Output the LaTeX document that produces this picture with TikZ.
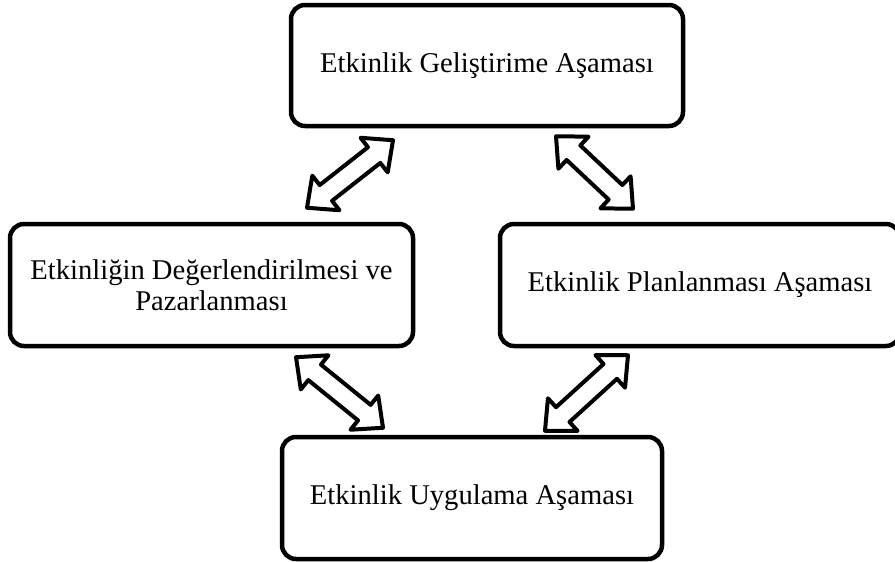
\documentclass[tikz,border=0pt]{standalone}
\usepackage{fontspec}
\setmainfont{Liberation Serif}
\usetikzlibrary{calc}

\tikzset{
  stagebox/.style={draw, line width=4.5pt, rounded corners=14pt, align=center,
    inner sep=0pt, font=\fontsize{28.6}{31}\selectfont},
  blockarrow/.style={line width=4pt, line join=round, line cap=round, fill=white}
}

% hollow double arrow, tip to tip
\newcommand{\dblarrow}[2]{%
  \coordinate (p) at ($(#1)!24pt!(#2)$);
  \coordinate (q) at ($(#2)!24pt!(#1)$);
  \draw[blockarrow] (#1) -- ($(p)!22pt!90:(#2)$) -- ($(p)!10pt!90:(#2)$)
    -- ($(q)!10pt!-90:(#1)$) -- ($(q)!22pt!-90:(#1)$) -- (#2)
    -- ($(q)!22pt!90:(#1)$) -- ($(q)!10pt!90:(#1)$)
    -- ($(p)!10pt!-90:(#2)$) -- ($(p)!22pt!-90:(#2)$) -- cycle;
}

\begin{document}
\begin{tikzpicture}[x=1pt, y=-1pt]
\useasboundingbox (0,0) rectangle (895,562);

\node[stagebox, minimum width=392pt, minimum height=121pt] (dev) at (487,65.5)
  {Etkinlik Geliştirime Aşaması};
\node[stagebox, minimum width=403pt, minimum height=122pt] (eval) at (211.5,285)
  {Etkinliğin Değerlendirilmesi ve\\ Pazarlanması};
\node[stagebox, minimum width=400pt, minimum height=122pt] (plan) at (700,285)
  {Etkinlik Planlanması Aşaması};
\node[stagebox, minimum width=380pt, minimum height=122pt] (impl) at (472,498)
  {Etkinlik Uygulama Aşaması};

% arrow ends
\coordinate (a1) at ($(dev.south)+(-94,12)$);
\coordinate (b1) at ($(eval.north)+(95.5,-14)$);
\coordinate (a2) at ($(dev.south)+(69,8)$);
\coordinate (b2) at ($(plan.north)+(-67,-13)$);
\coordinate (a3) at ($(eval.south)+(84.5,9)$);
\coordinate (b3) at ($(impl.north)+(-89,-7)$);
\coordinate (a4) at ($(plan.south)+(-72,7)$);
\coordinate (b4) at ($(impl.north)+(73,-4)$);

\dblarrow{a1}{b1}
\dblarrow{a2}{b2}
\dblarrow{a3}{b3}
\dblarrow{a4}{b4}

\end{tikzpicture}
\end{document}
